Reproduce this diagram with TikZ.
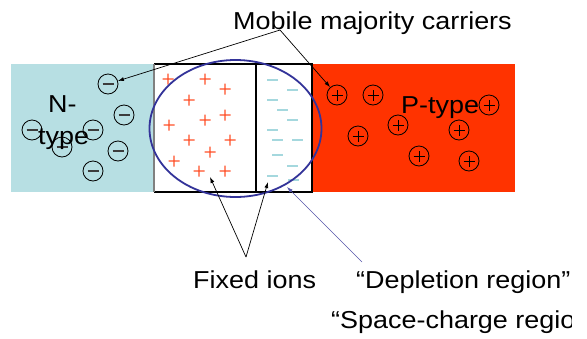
\documentclass[tikz,border=0pt]{standalone}
\usepackage{fontspec}
\setmainfont{Liberation Sans}
\usetikzlibrary{arrows.meta}
\definecolor{nblue}{RGB}{183,223,227}
\definecolor{pred}{RGB}{255,51,0}
\definecolor{ionred}{RGB}{255,80,40}
\definecolor{ioncyan}{RGB}{165,216,222}
\definecolor{ellblue}{RGB}{51,51,153}
\definecolor{ptrblue}{RGB}{85,85,170}
\definecolor{mgray}{RGB}{60,60,60}
\tikzset{
  lbl/.style={font=\fontsize{24.5}{28}\selectfont, inner sep=0pt, anchor=base west, xscale=1.1},
  ptr/.style={line width=0.7pt, -{Latex[length=6pt,width=4pt]}},
  ncirc/.style={circle, draw=black, line width=0.8pt, minimum size=20pt, inner sep=0pt,
    path picture={\draw[line width=1.1pt, mgray]
      ([xshift=-5.5pt]path picture bounding box.center) -- ([xshift=5.5pt]path picture bounding box.center);}},
  pcirc/.style={circle, draw=black, line width=0.8pt, minimum size=20pt, inner sep=0pt,
    path picture={\draw[line width=0.9pt, black]
      ([xshift=-5.5pt]path picture bounding box.center) -- ([xshift=5.5pt]path picture bounding box.center)
      ([yshift=-5.5pt]path picture bounding box.center) -- ([yshift=5.5pt]path picture bounding box.center);}},
}
\begin{document}
\begin{tikzpicture}[x=1pt,y=-1pt]
\useasboundingbox (0,0) rectangle (587,338);
% semiconductor regions
\fill[nblue] (11,64) rectangle (154,192);
\fill[pred] (312,64) rectangle (515,192);
\fill[white] (154,64) rectangle (312,192);
% fixed donor ions (+) and acceptor ions (-)
\foreach \x/\y in {168/79,205/79,225/89,189/100,225/115,205/120,169/125,189/140,230/140,210/152,174/161,199/171,225/171}
  \fill[ionred] (\x-5.5,\y-0.6) rectangle (\x+5.5,\y+0.6)
                (\x-0.6,\y-5.5) rectangle (\x+0.6,\y+5.5);
\foreach \x/\y in {272/80,292/90,272/100,282/110,292/120,272/130,277/140,297/140,277/155,292/166,272/176,293/180}
  \fill[ioncyan] (\x-5.5,\y-0.6) rectangle (\x+5.5,\y+0.6);
% depletion region outline
\draw[black, line width=1.2pt] (154,64) -- (312,64) -- (312,192) -- (154,192);
\draw[black, line width=1.2pt] (256,64) -- (256,192);
\draw[gray, line width=1.8pt] (154,64) -- (154,192);
% mobile electrons
\foreach \x/\y [count=\i] in {108/84,124/115,32/130,93/130,118/151,62/147,93/171}
  \node[ncirc] (e\i) at (\x,\y) {};
% mobile holes
\foreach \x/\y [count=\i] in {337/95,373/95,489/105,358/136,398/125,459/130,419/156,469/161}
  \node[pcirc] (h\i) at (\x,\y) {};
% region labels
\node[lbl] (nlbl) at (48,112) {N-};
\node[lbl] (tlbl) at (38,144) {type};
\node[lbl] (plbl) at (401,113) {P-type};
% space-charge ellipse
\draw[ellblue, line width=1.8pt] (235.5,128.5) ellipse [x radius=86, y radius=68.5];
% annotations
\node[lbl] (mob) at (233,29) {Mobile majority carriers};
\node[lbl] (fix) at (193,288) {Fixed ions};
\node[lbl] (dep) at (356,288) {“Depletion region”};
\begin{scope}
  \clip (0,300) rectangle (571,338);
  \node[lbl] (scr) at (331,328) {“Space-charge region”};
\end{scope}
\coordinate (mobfoot) at (280,30);
\coordinate (fixtop) at (246,257);
\coordinate (deptop) at (362,262);
\coordinate (fixL) at (210,177);
\coordinate (fixR) at (268,182);
\coordinate (ellpt) at (287,187);
\draw[ptr] (mobfoot) -- (e1);
\draw[ptr] (mobfoot) -- (h1);
\draw[ptr] (fixtop) -- (fixL);
\draw[ptr] (fixtop) -- (fixR);
\draw[ptr, ptrblue, line width=0.6pt] (deptop) -- (ellpt);
\end{tikzpicture}
\end{document}
